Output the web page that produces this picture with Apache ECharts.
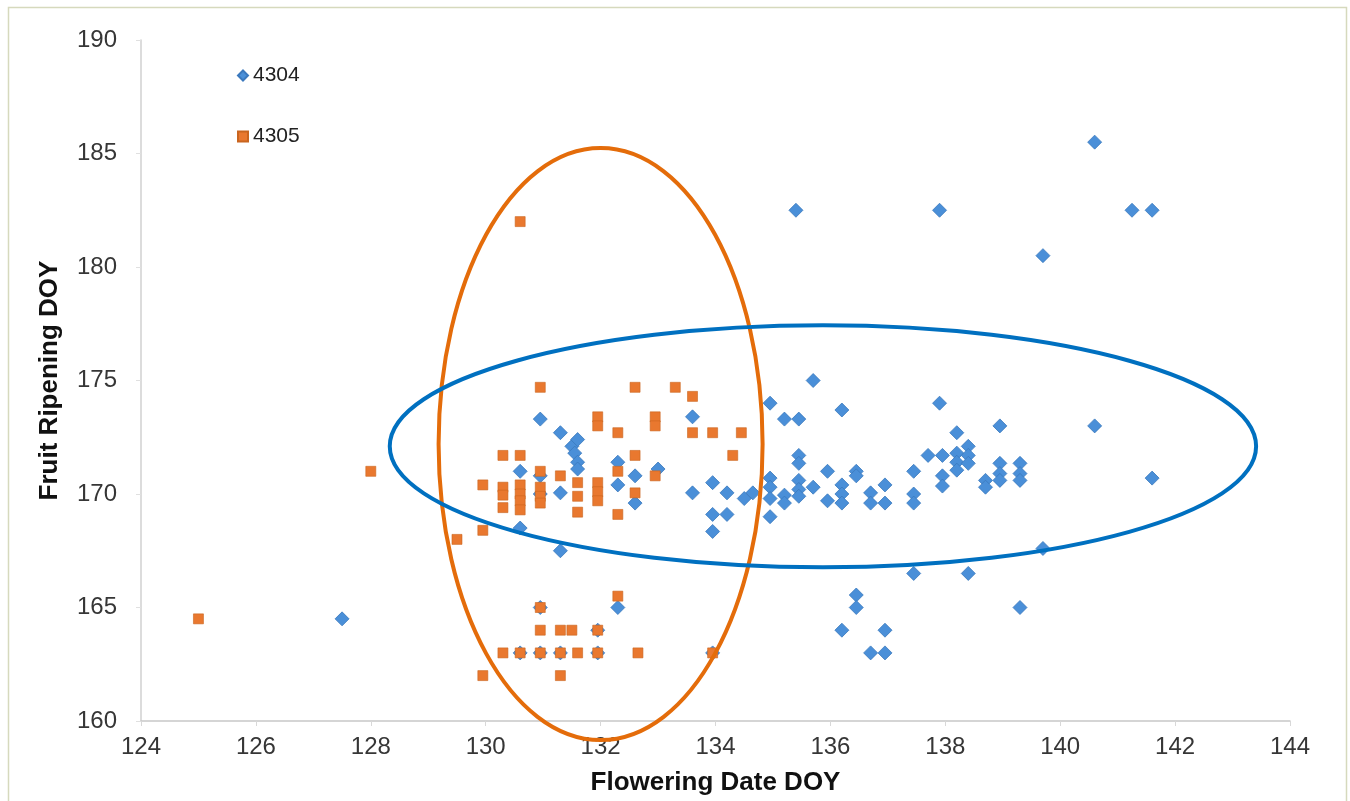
<!DOCTYPE html>
<html>
<head>
<meta charset="utf-8">
<script src="https://cdn.jsdelivr.net/npm/echarts@6/dist/echarts.min.js"></script>
<style>
html,body{margin:0;padding:0;background:#fff;}
#chart{width:1350px;height:801px;}
</style>
</head>
<body>
<div id="chart"></div>
<script>
const xTicks = [124,126,128,130,132,134,136,138,140,142,144];
const yTicks = [160,165,170,175,180,185,190];
const seriesNames = ['4304','4305'];

const data4304 = [
  [127.5,164.5],[135.4,182.5],[137.9,182.5],[140.6,185.5],[141.25,182.5],[141.6,182.5],
  [139.7,180.5],[140.6,173.0],[141.6,170.7],[139.7,167.6],[139.3,165.0],
  [130.95,173.3],[131.3,172.7],[131.5,172.1],[131.6,172.4],[131.55,171.8],[131.6,171.4],
  [131.6,171.1],[130.6,171.0],[130.95,170.8],[130.95,170.0],[131.3,170.05],[132.3,171.4],
  [132.3,170.4],[132.6,170.8],[132.6,169.6],[133.0,171.1],[133.6,173.4],[133.6,170.05],
  [133.95,170.5],[134.2,170.05],[133.95,169.1],[134.2,169.1],[133.95,168.35],[134.5,169.8],
  [134.65,170.05],[130.6,168.5],[131.3,167.5],[132.3,165.0],
  [130.95,165.0],[131.95,164.0],[130.6,163.0],[130.95,163.0],[131.3,163.0],[131.95,163.0],[133.95,163.0],
  [135.7,175.0],[134.95,174.0],[135.2,173.3],[135.45,173.3],[136.2,173.7],[137.9,174.0],
  [138.2,172.7],[138.95,173.0],[135.45,171.7],[135.45,171.35],[134.95,170.7],[134.95,170.3],
  [134.95,169.8],[134.95,169.0],[135.2,169.95],[135.2,169.6],[135.45,170.6],[135.45,170.2],
  [135.45,169.9],[135.7,170.3],[135.95,171.0],[135.95,169.7],[136.2,170.4],[136.2,170.0],
  [136.2,169.6],[136.45,171.0],[136.45,170.8],[136.7,170.05],[136.7,169.6],[136.95,170.4],
  [136.95,169.6],[137.45,171.0],[137.45,170.0],[137.45,169.6],[137.7,171.7],[137.95,171.7],
  [137.95,170.8],[137.95,170.35],[138.2,171.8],[138.2,171.4],[138.2,171.05],[138.4,172.1],
  [138.4,171.7],[138.4,171.35],[138.7,170.6],[138.7,170.3],[138.95,171.35],[138.95,170.9],
  [138.95,170.6],[139.3,171.35],[139.3,170.9],[139.3,170.6],
  [137.45,166.5],[138.4,166.5],[136.45,165.55],[136.45,165.0],[136.2,164.0],[136.95,164.0],
  [136.7,163.0],[136.95,163.0]
];

const data4305 = [
  [125.0,164.5],[128.0,171.0],[129.5,168.0],[129.95,168.4],[130.6,182.0],
  [130.95,174.7],[132.6,174.7],[133.3,174.7],[133.6,174.3],
  [131.95,173.4],[131.95,173.0],[132.95,173.4],[132.95,173.0],
  [132.3,172.7],[133.6,172.7],[133.95,172.7],[134.45,172.7],
  [134.3,171.7],[130.3,171.7],[130.6,171.7],[132.6,171.7],
  [129.95,170.4],[130.3,170.3],[130.3,169.95],[130.3,169.4],
  [130.6,170.4],[130.6,170.0],[130.6,169.7],[130.6,169.3],
  [130.95,171.0],[130.95,170.3],[130.95,169.9],[130.95,169.6],
  [131.3,170.8],[131.6,170.5],[131.6,169.9],[131.6,169.2],
  [131.95,170.5],[131.95,170.1],[131.95,169.7],
  [132.3,171.0],[132.3,169.1],[132.6,170.05],[132.95,170.8],
  [132.3,165.5],[130.95,165.0],
  [130.95,164.0],[131.3,164.0],[131.5,164.0],[131.95,164.0],
  [130.3,163.0],[130.6,163.0],[130.95,163.0],[131.3,163.0],[131.6,163.0],[131.95,163.0],
  [132.65,163.0],[133.95,163.0],
  [129.95,162.0],[131.3,162.0]
];

// annotation ellipses in data units: [centerX, centerY, radiusX, radiusY]
const ellipseOrange = [[132.0,172.2,2.82,13.04]];
const ellipseBlue = [[135.87,172.1,7.54,5.33]];

function ellipseRenderer(color){
  return function(params, api){
    const c = api.coord([api.value(0), api.value(1)]);
    const s = api.size([api.value(2), api.value(3)]);
    return {
      type:'ellipse',
      shape:{cx:c[0], cy:c[1], rx:s[0], ry:s[1]},
      style:{fill:'none', stroke:color, lineWidth:4}
    };
  };
}

const FONT = 'Liberation Sans, Arial, sans-serif';
const chart = echarts.init(document.getElementById('chart'));
const labelFont = {color:'#363636', fontSize:24, fontFamily:FONT};
chart.setOption({
  animation:false,
  backgroundColor:'#ffffff',
  graphic:[{
    type:'rect', left:6, top:5, shape:{width:1338, height:830},
    style:{fill:'none', stroke:'#d6d9bd', lineWidth:1.5}, silent:true
  }],
  grid:{left:141, right:60, top:40, bottom:80, containLabel:false},
  legend:{
    data:seriesNames, orient:'vertical', left:232, top:60,
    itemWidth:10, itemHeight:10, itemGap:40,
    textStyle:{color:'#222', fontSize:21, fontFamily:FONT}
  },
  xAxis:{
    type:'value', min:xTicks[0], max:xTicks[xTicks.length-1], interval:2,
    name:'Flowering Date DOY', nameLocation:'middle', nameGap:49,
    nameTextStyle:{color:'#111', fontSize:26, fontWeight:'bold', fontFamily:FONT},
    axisLine:{lineStyle:{color:'#c8c8c8', width:1.5}},
    axisTick:{show:true, length:5, lineStyle:{color:'#d8d8d8'}},
    axisLabel:Object.assign({margin:14}, labelFont),
    splitLine:{show:false}
  },
  yAxis:{
    type:'value', min:yTicks[0], max:yTicks[yTicks.length-1], interval:5,
    name:'Fruit Ripening DOY', nameLocation:'middle', nameGap:78,
    nameTextStyle:{color:'#111', fontSize:26, fontWeight:'bold', fontFamily:FONT},
    axisLine:{show:true, lineStyle:{color:'#d0d0d0', width:1.5}},
    axisTick:{show:true, length:5, lineStyle:{color:'#e0e0e0'}},
    axisLabel:Object.assign({margin:24}, labelFont),
    splitLine:{show:false}
  },
  series:[
    {
      name:seriesNames[0], type:'scatter', data:data4304,
      symbol:'diamond', symbolSize:14,
      itemStyle:{color:'#4a8fd8', borderColor:'#3a78bd', borderWidth:0.8, opacity:1}
    },
    {
      name:seriesNames[1], type:'scatter', data:data4305,
      symbol:'rect', symbolSize:10,
      itemStyle:{color:'#e9782f', borderColor:'#c9651f', borderWidth:0.6, opacity:1}
    },
    {
      type:'custom', data:ellipseOrange, renderItem:ellipseRenderer('#e46c0a'),
      clip:false, silent:true, z:5
    },
    {
      type:'custom', data:ellipseBlue, renderItem:ellipseRenderer('#0070c0'),
      clip:false, silent:true, z:5
    }
  ]
});
</script>
</body>
</html>
